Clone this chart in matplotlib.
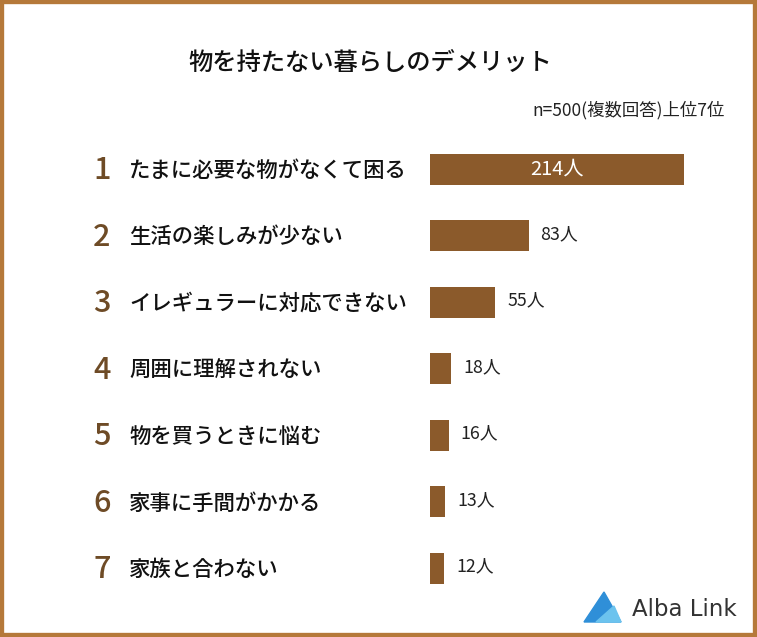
#!/usr/bin/env python3
# -*- coding: utf-8 -*-
import matplotlib
matplotlib.use("Agg")
import matplotlib.pyplot as plt
import matplotlib.transforms as mtransforms
from matplotlib.patches import Rectangle, Polygon

plt.rcParams['font.family'] = ['Noto Sans CJK JP', 'DejaVu Sans']

# ===============================
# Data
# ===============================
title = "物を持たない暮らしのデメリット"
subtitle = "n=500(複数回答)上位7位"
ranks = ["1", "2", "3", "4", "5", "6", "7"]
labels = ["たまに必要な物がなくて困る", "生活の楽しみが少ない", "イレギュラーに対応できない",
          "周囲に理解されない", "物を買うときに悩む", "家事に手間がかかる", "家族と合わない"]
values = [214, 83, 55, 18, 16, 13, 12]

bar_color = "#8B5A2B"
rank_color = "#6E4B26"
border_color = "#B5793A"

W, H = 757, 637
fig = plt.figure(figsize=(W / 100, H / 100), dpi=100)
fig.patch.set_facecolor("white")

# axes for the bars: left edge at x=430 px, rows spaced ~66.5 px
row = 66.5
top_px = 169 - row / 2
ax = fig.add_axes([430 / W, 1 - (top_px + 7 * row) / H, 300 / W, 7 * row / H])
ax.set_xlim(0, 300 / (254 / 214))
ax.set_ylim(6.5, -0.5)
ax.axis("off")

ypos = list(range(len(values)))
ax.barh(ypos, values, height=31 / row, color=bar_color)

trans = mtransforms.blended_transform_factory(fig.transFigure, ax.transData)
for i, (r, lab, v) in enumerate(zip(ranks, labels, values)):
    ax.text(102 / W, i + 0.03, r, transform=trans, ha="center", va="center",
            fontsize=22, color=rank_color, fontweight="medium")
    ax.text(129 / W, i + 0.03, lab, transform=trans, ha="left", va="center",
            fontsize=15.4, color="#111111", fontweight="medium")
    if i == 0:
        ax.text(v / 2, i, f"{v}人", ha="center", va="center",
                fontsize=14.5, color="white")
    else:
        ax.text(v + 10, i - 0.02, f"{v}人", ha="left", va="center",
                fontsize=12.8, color="#222222")

fig.text(370 / W, 1 - 63 / H, title, ha="center", va="center",
         fontsize=17.5, color="#111111", fontweight="medium")
fig.text(725 / W, 1 - 110 / H, subtitle, ha="right", va="center",
         fontsize=12.5, color="#222222")

# logo
icon = Polygon([[584 / W, 1 - 622 / H], [604 / W, 1 - 592 / H], [621 / W, 1 - 622 / H]],
               closed=True, transform=fig.transFigure, color="#2F8FD8")
fig.patches.append(icon)
icon2 = Polygon([[596 / W, 1 - 622 / H], [614 / W, 1 - 606 / H], [621 / W, 1 - 622 / H]],
                closed=True, transform=fig.transFigure, color="#6CC3EE")
fig.patches.append(icon2)
fig.text(632 / W, 1 - 610 / H, "Alba Link", ha="left", va="center",
         fontsize=16.5, color="#333333", family="DejaVu Sans")

# border
fig.patches.append(Rectangle((0, 0), 1, 1, transform=fig.transFigure, fill=False,
                             edgecolor=border_color, linewidth=6))

fig.savefig("out.png", dpi=100, facecolor="white")
